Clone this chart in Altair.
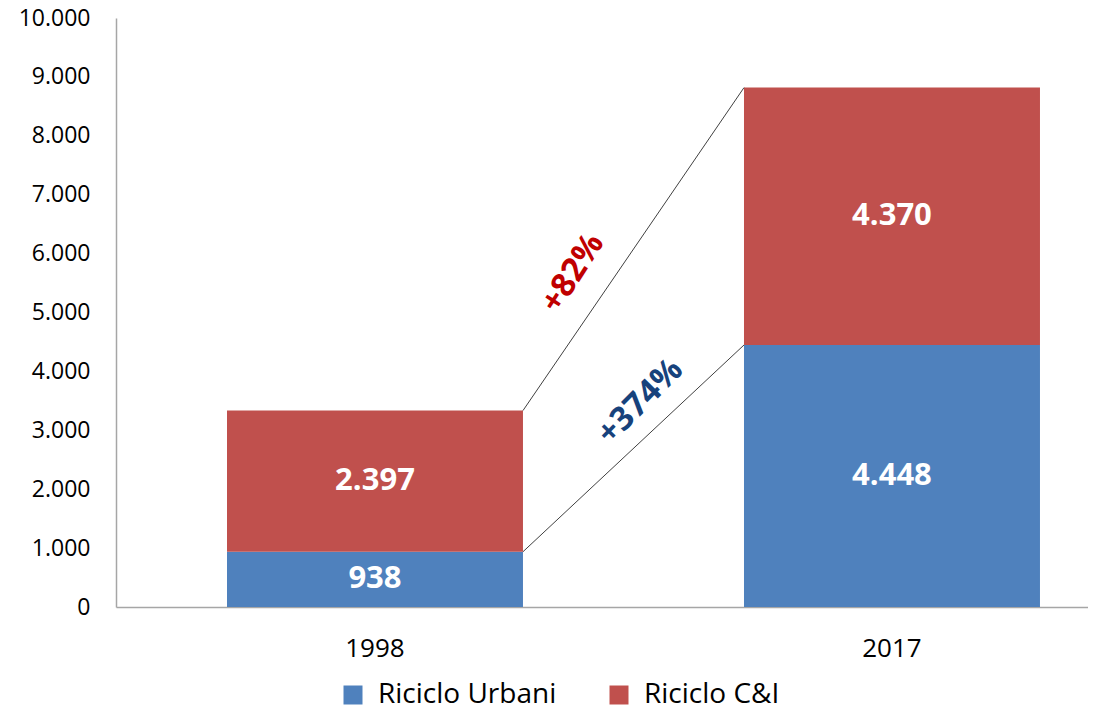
import altair as alt
import pandas as pd

# ---- data ----
years = ["1998", "2017"]
series = ["Riciclo Urbani", "Riciclo C&I"]
urbani = [938, 4448]
ci = [2397, 4370]
colors = ["#4F81BD", "#C0504D"]
y_ticks = list(range(0, 10001, 1000))
growth_labels = ["+82%", "+374%"]
growth_colors = ["#C00000", "#17427C"]

FONT = "Open Sans"

rows = []
for i, y in enumerate(years):
    rows.append({"year": y, "series": series[0], "value": urbani[i], "ord": 0})
    rows.append({"year": y, "series": series[1], "value": ci[i], "ord": 1})
bars_df = pd.DataFrame(rows)

totals = [u + c for u, c in zip(urbani, ci)]
conn_df = pd.DataFrame({
    "src": [years[0], years[0]],
    "dst": [years[1], years[1]],
    "a": [totals[0], urbani[0]],
    "b": [totals[1], urbani[1]],
    "label": growth_labels,
})

xscale = alt.Scale(domain=years, paddingInner=0.4275, paddingOuter=0.1538, align=0.698)
yscale = alt.Scale(domain=[0, 10000], nice=False)

base = alt.Chart(bars_df).transform_stack(
    stack="value", groupby=["year"], as_=["y0", "y1"],
    sort=[alt.SortField("ord", order="ascending")]
).transform_calculate(
    mid="(datum.y0 + datum.y1) / 2",
    label="replace(format(datum.value, ','), ',', '.')"
)

bars = base.mark_bar().encode(
    x=alt.X("year:N", scale=xscale, title=None,
            axis=alt.Axis(labelAngle=0, ticks=False, grid=False, domainColor="#A6A6A6",
                          domainWidth=1.5, labelFontSize=26, labelPadding=28,
                          labelColor="#000000", labelFont=FONT)),
    y=alt.Y("y0:Q", scale=yscale, title=None,
            axis=alt.Axis(values=y_ticks, ticks=False, grid=False, domainColor="#A6A6A6",
                          domainWidth=1.5, labelFontSize=23, labelPadding=26,
                          labelColor="#000000", labelFont=FONT,
                          labelExpr="replace(format(datum.value, ','), ',', '.')")),
    y2="y1:Q",
    color=alt.Color("series:N", scale=alt.Scale(domain=series, range=colors),
                    legend=alt.Legend(title=None, orient="none", legendX=223, legendY=663,
                                      direction="horizontal", symbolType="square",
                                      symbolSize=361, symbolStrokeWidth=0,
                                      labelFontSize=28, labelFont=FONT, labelColor="#000000",
                                      labelLimit=0, labelOffset=11, columnPadding=48,
                                      padding=0)),
)

labels = base.mark_text(color="white", fontSize=31, fontWeight="bold", font=FONT,
                        baseline="middle", align="center").encode(
    x=alt.X("year:N", scale=xscale),
    y=alt.Y("mid:Q", scale=yscale),
    text="label:N",
)

rules = alt.Chart(conn_df).mark_rule(color="#404040", strokeWidth=1).encode(
    x=alt.X("src:N", scale=xscale, bandPosition=1),
    x2=alt.X2("dst:N", bandPosition=0),
    y=alt.Y("a:Q", scale=yscale),
    y2="b:Q",
)

ann_base = alt.Chart(conn_df).transform_calculate(m="(datum.a + datum.b) / 2")
ann1 = ann_base.transform_filter(alt.datum.label == growth_labels[0]).mark_text(
    fontSize=33, fontWeight="bold", font=FONT, angle=303, dx=7, dy=55,
    align="center", baseline="middle", color=growth_colors[0]
).encode(
    x=alt.X("src:N", scale=xscale, bandPosition=1),
    y=alt.Y("m:Q", scale=yscale),
    text="label:N",
)
ann2 = ann_base.transform_filter(alt.datum.label == growth_labels[1]).mark_text(
    fontSize=33, fontWeight="bold", font=FONT, angle=315, dx=116, dy=50,
    align="center", baseline="middle", color=growth_colors[1]
).encode(
    x=alt.X("src:N", scale=xscale, bandPosition=1),
    y=alt.Y("m:Q", scale=yscale),
    text="label:N",
)

chart = alt.layer(bars, labels, rules, ann1, ann2).properties(
    width=972, height=589,
    autosize=alt.AutoSizeParams(type="none"),
    padding={"left": 108, "top": 10, "right": 0, "bottom": 106},
).configure_view(stroke=None)

chart.save("out.html", embed_options={"renderer": "svg", "actions": False})
